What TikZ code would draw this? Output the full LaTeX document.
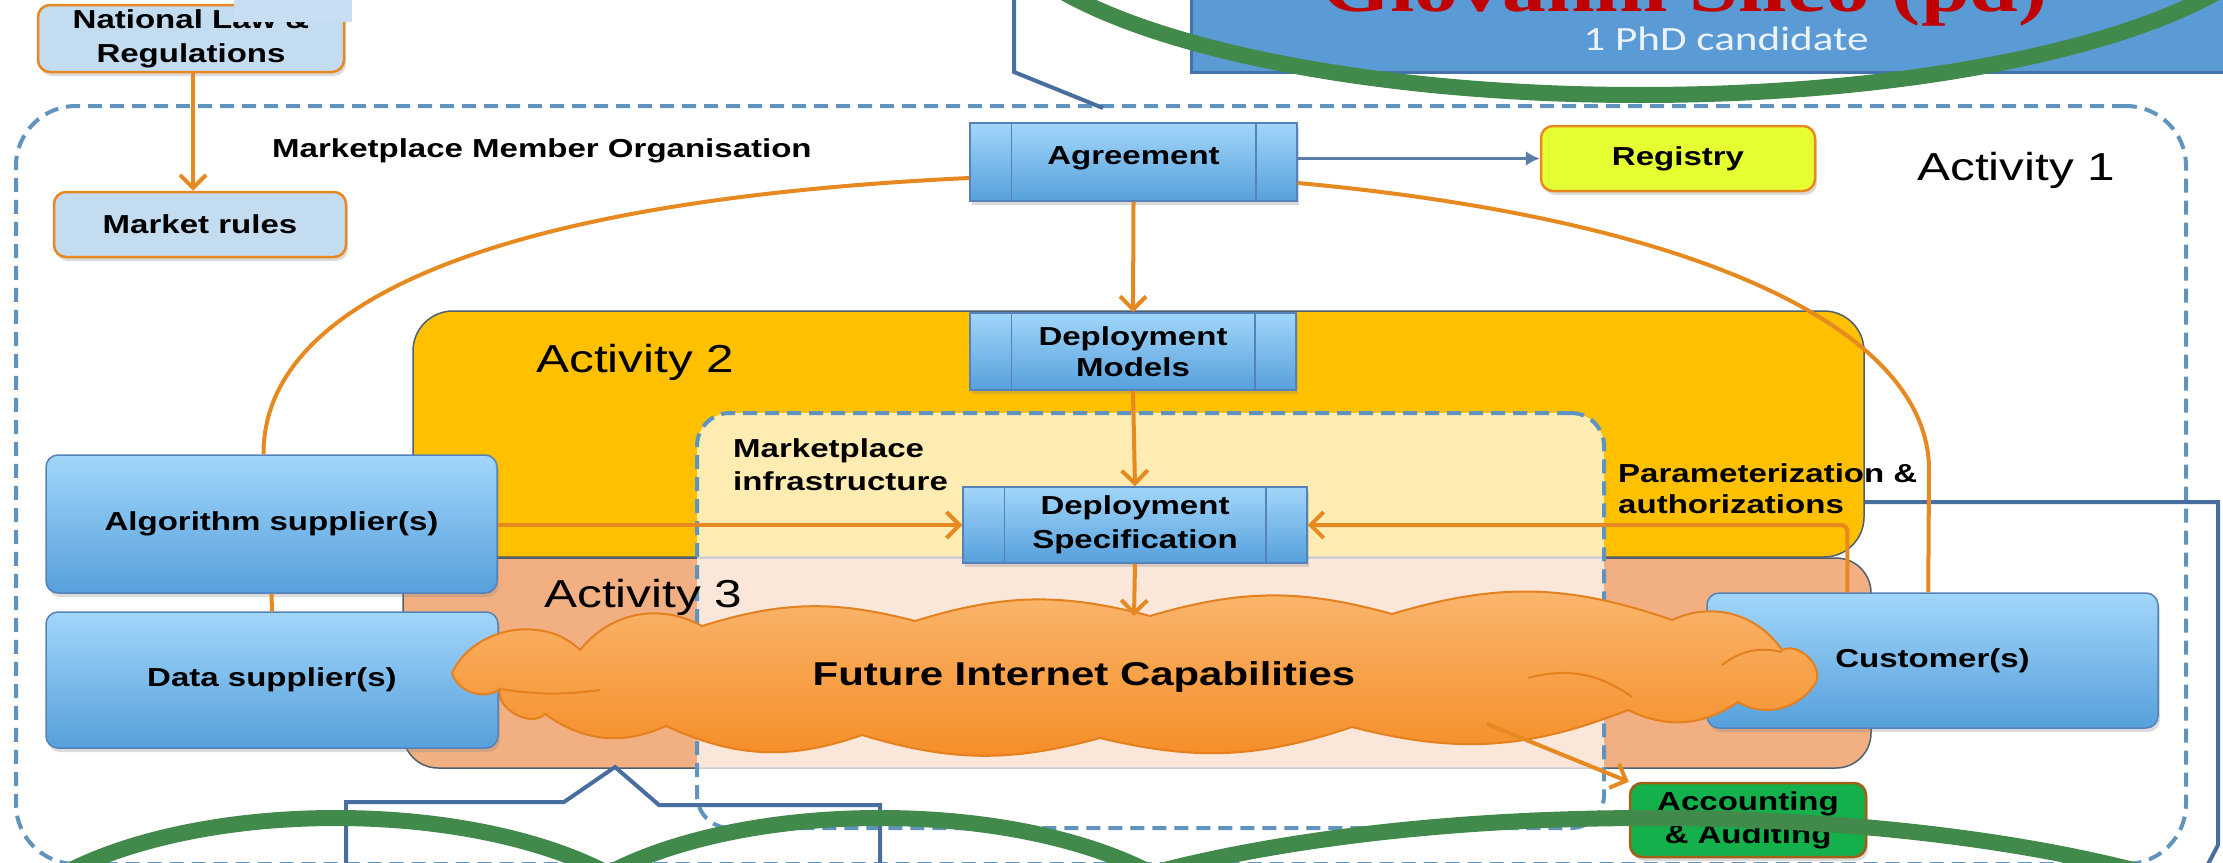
\documentclass[tikz,border=0pt]{standalone}
\usepackage{fontspec}
\setmainfont{Liberation Sans}[FakeStretch=1.27]
\newfontfamily\namefont{Liberation Serif}[FakeStretch=1.27]
\newfontfamily\rolefont{Carlito}[FakeStretch=1.27]
\usetikzlibrary{arrows.meta,shadows,calc}

\definecolor{orangeln}{RGB}{230,137,32}
\definecolor{dashblue}{RGB}{96,148,190}
\definecolor{ptrblue}{RGB}{72,110,160}
\definecolor{lawfill}{RGB}{196,220,240}
\definecolor{patchfill}{RGB}{200,222,242}
\definecolor{boxtop}{RGB}{162,214,250}
\definecolor{boxbot}{RGB}{86,160,220}
\definecolor{boxedge}{RGB}{84,130,185}
\definecolor{acttwo}{RGB}{255,192,0}
\definecolor{actthree}{RGB}{242,176,130}
\definecolor{actedge}{RGB}{80,95,110}
\definecolor{regfill}{RGB}{230,255,50}
\definecolor{accfill}{RGB}{20,176,76}
\definecolor{titleblue}{RGB}{91,155,213}
\definecolor{titleedge}{RGB}{68,114,170}
\definecolor{titlered}{RGB}{192,0,0}
\definecolor{rolewhite}{RGB}{236,242,250}
\definecolor{ringgreen}{RGB}{65,138,75}
\definecolor{cloudtop}{RGB}{250,184,112}
\definecolor{cloudbot}{RGB}{246,140,38}
\definecolor{cloudedge}{RGB}{228,128,30}

\tikzset{
  boxtext/.style={font=\fontsize{26}{31}\selectfont\bfseries, align=center},
  acttext/.style={font=\fontsize{39}{44}\selectfont, anchor=base west, inner sep=0pt},
  tagtext/.style={font=\fontsize{26}{33}\selectfont\bfseries, align=left, anchor=north west, inner sep=0pt},
  softshadow/.style={drop shadow={opacity=.28, shadow xshift=2pt, shadow yshift=-4pt}},
  actorbox/.style={boxtext, rounded corners=12pt, draw=boxedge, line width=1.5pt,
    top color=boxtop, bottom color=boxbot, softshadow},
  procbox/.style={boxtext, draw=boxedge, line width=1.5pt,
    top color=boxtop, bottom color=boxbot, softshadow},
  rulebox/.style={boxtext, rounded corners=12pt, draw=orangeln, line width=2.5pt, softshadow},
  flow/.style={draw=orangeln, line width=4pt},
  flowtip/.style={-{Straight Barb[length=13pt,width=26pt]}},
  region/.style={draw=actedge, line width=1.5pt},
  boundary/.style={draw=dashblue, line width=4pt, dash pattern=on 14pt off 8pt},
  pointer/.style={draw=ptrblue, line width=4pt},
  ring/.style={draw=ringgreen, line width=16pt},
  puffline/.style={draw=cloudedge, line width=2pt},
}

\begin{document}
\begin{tikzpicture}[x=1pt,y=-1pt]
\useasboundingbox (0,0) rectangle (2223,862);
\clip (0,0) rectangle (2223,862);
\fill[white] (0,0) rectangle (2223,862);

% ---- organisation boundary (Activity 1)
\node[boundary, rounded corners=60pt, minimum width=2170pt, minimum height=758pt] (org) at (1101,485) {};

% ---- heading box with its pointer
\node[fill=titleblue, draw=titleedge, line width=3pt, minimum width=1050pt, minimum height=84pt] (head) at (1716,30) {};
\coordinate (hk) at (1014,72);
\coordinate (hend) at (1103,108);
\draw[pointer] (1014,-5) -- (hk) -- (hend);
\node[font=\namefont\fontsize{69}{70}\selectfont\bfseries, text=titlered, anchor=base, inner sep=0pt] (who) at (1685,12) {Giovanni Sileo (pd)};
\node[font=\rolefont\fontsize{34}{36}\selectfont, text=rolewhite, anchor=base, inner sep=0pt] (role) at (1726,50) {1 PhD candidate};

% ---- pointer on the right side (passes under Activity 2)
\coordinate (rp1) at (1700,502);
\coordinate (rp2) at (2218,502);
\coordinate (rp3) at (2218,845);
\draw[pointer] (rp1) -- (rp2) -- (rp3) -- (2206,868);

% ---- activity regions
\node[region, fill=acttwo, rounded corners=40pt, minimum width=1451pt, minimum height=246pt] (act2) at (1138.5,434) {};
\node[region, fill=actthree, rounded corners=35pt, minimum width=1468pt, minimum height=210pt] (act3) at (1137,663) {};
\node[boundary, fill=white, fill opacity=.7, rounded corners=33pt, minimum width=907pt, minimum height=415pt] (infra) at (1150.5,620.5) {};

% ---- region labels
\node[font=\fontsize{26}{30}\selectfont\bfseries, anchor=base west, inner sep=0pt] (orglbl) at (272,157) {Marketplace Member Organisation};
\node[acttext] (a1) at (1917,180) {Activity 1};
\node[acttext] (a2) at (536,372) {Activity 2};
\node[acttext] (a3) at (544,607) {Activity 3};
\node[tagtext] (infralbl) at (733,438) {Marketplace\\infrastructure};
\node[tagtext, font=\fontsize{26}{31}\selectfont\bfseries] (paramlbl) at (1618,463) {Parameterization \&\\authorizations};

% ---- process boxes
\node[procbox, minimum width=327pt, minimum height=78pt] (agr) at (1133.5,162) {\raisebox{12pt}{Agreement}};
\node[procbox, minimum width=326pt, minimum height=77pt] (dm) at (1133,351.5) {Deployment\\Models};
\node[procbox, font=\fontsize{26}{34}\selectfont\bfseries, minimum width=344pt, minimum height=76pt] (spec) at (1135,525) {Deployment\\Specification};
\foreach \n in {agr,dm,spec}{
  \draw[boxedge, line width=1.5pt] ($(\n.north west)+(42,0)$) -- ($(\n.south west)+(42,0)$);
  \draw[boxedge, line width=1.5pt] ($(\n.north east)+(-42,0)$) -- ($(\n.south east)+(-42,0)$);
}

% ---- actors
\node[actorbox, minimum width=451pt, minimum height=138pt] (alg) at (271.5,524) {Algorithm supplier(s)};
\node[actorbox, minimum width=452pt, minimum height=136pt] (data) at (272,680) {Data supplier(s)};
\node[actorbox, minimum width=451pt, minimum height=135pt] (cust) at (1932.5,660.5) {Customer(s)};

% ---- registry
\node[rulebox, fill=regfill, minimum width=274pt, minimum height=65pt] (reg) at (1678,158.5) {Registry};
\draw[draw=ptrblue!90!white, line width=3pt, -{Latex[length=14pt,width=15pt]}] (agr.east |- reg.west) -- (reg.west);

% ---- orange flows
\draw[flow] ($(agr.west)+(0,16)$) .. controls (500,200) and (263,300) .. ($(alg.north)+(-8,0)$);
\draw[flow] ($(agr.east)+(0,21)$) .. controls (1700,220) and (1929,330) .. (1929,470) -- ($(cust.north west)+(222,0)$);
\draw[flow] (alg.south) -- (data.north);
\draw[flow, flowtip] (agr.south) -- (dm.north);
\draw[flow, flowtip] (dm.south) -- (spec.north);
\draw[flow, flowtip] (alg.east |- spec.west) -- (spec.west);
\draw[flow, flowtip, rounded corners=6pt] ($(cust.north west)+(141,0)$) |- (spec.east);

% ---- cloud of capabilities
\coordinate (cltop) at (1134,616);
\coordinate (clfoot) at (1487,724);
\path[draw=cloudedge, line width=2pt, top color=cloudtop, bottom color=cloudbot]
  (500,689) to[bend left=55] (452,673) to[bend left=55] (580,650) to[bend left=40] (702,626)
  to[bend left=16] (915,621) to[bend left=16] (1150,616) to[bend left=16] (1392,614)
  to[bend left=18] (1672,620) to[bend left=40] (1782,650) to[bend left=70] (1816,682)
  to[bend left=45] (1738,702) to[bend left=30] (1628,710) to[bend left=18] (1352,727)
  to[bend left=16] (1100,738) to[bend left=16] (862,735) to[bend left=22] (666,726)
  to[bend left=30] (545,714) to[bend left=75] cycle;
\draw[puffline] (1722,665) to[bend left=25] (1782,652);
\draw[puffline] (1528,678) to[bend left=25] (1632,697);
\draw[puffline] (500,689) to[bend right=8] (600,690);
\draw[flow, flowtip] (spec.south) -- (cltop);
\node[font=\fontsize{33}{36}\selectfont\bfseries, inner sep=0pt] (fic) at (1084,677) {Future Internet Capabilities};

% ---- accounting
\node[rulebox, fill=accfill, draw=orangeln!70!black, font=\fontsize{26}{33}\selectfont\bfseries, minimum width=236pt, minimum height=74pt] (acc) at (1748,820) {Accounting\\\& Auditing};
\draw[flow, flowtip] (clfoot) -- (acc.north west);

% ---- law and rules
\node[rulebox, fill=lawfill, font=\fontsize{26}{34}\selectfont\bfseries, minimum width=306pt, minimum height=67pt] (law) at (191,38.5) {National Law \&\\Regulations};
\node[rulebox, fill=lawfill, minimum width=292pt, minimum height=65pt] (rules) at (200,224.5) {Market rules};
\draw[flow, flowtip] (law.south -| 193,0) -- (rules.north -| 193,0);
\fill[patchfill] (234,0) rectangle (352,22);

% ---- bracket under Activity 3
\coordinate (bpk) at (615,767);
\draw[pointer, line join=miter] (346,870) -- (346,802) -- (564,802) -- (bpk) -- (659,805) -- (880,805) -- (880,870);

% ---- rings
\draw[ring] (336,968) ellipse [x radius=350, y radius=150];
\draw[ring] (880,968) ellipse [x radius=350, y radius=150];
\draw[ring] (1649,1018) ellipse [x radius=720, y radius=200];
\draw[ring] (1640,-96) ellipse [x radius=650, y radius=191];
\end{tikzpicture}
\end{document}
